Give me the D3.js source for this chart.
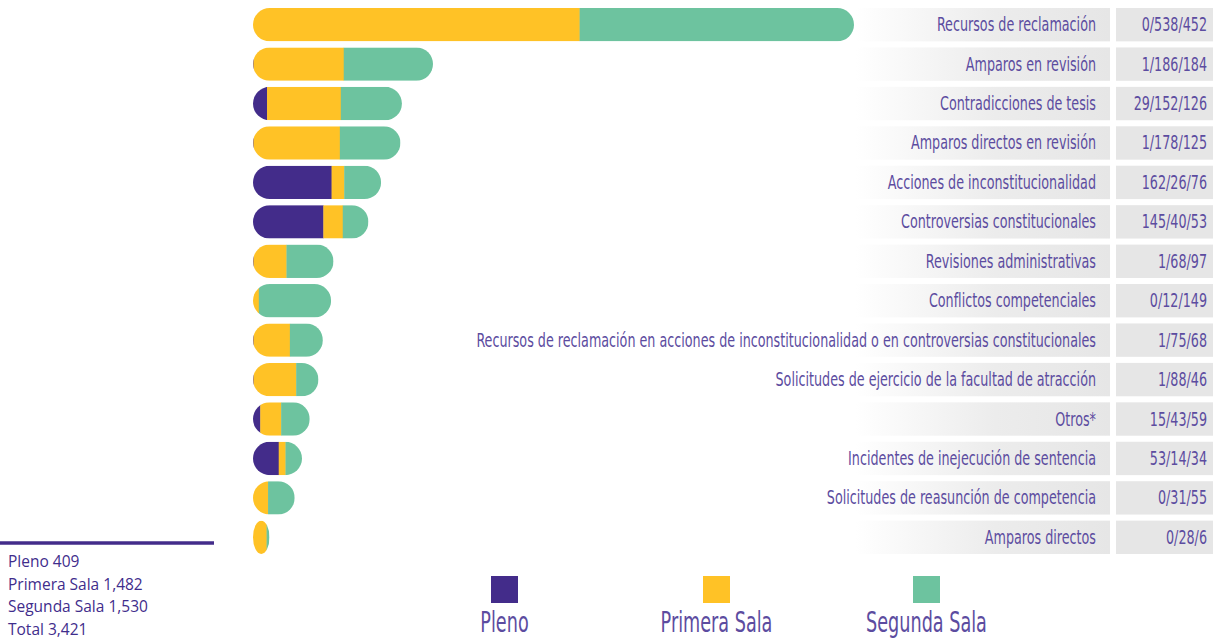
<!DOCTYPE html>
<html lang="es">
<head>
<meta charset="UTF-8">
<title>Asuntos por tipo</title>
<style>
  body { margin: 0; background: #fff; }
  svg { display: block; }
  .lbl { font-family: "Liberation Sans Narrow", "DejaVu Sans Condensed", sans-serif; fill: #5c4ca0; }
  .tot { font-family: "Open Sans", "Noto Sans", sans-serif; fill: #3f2d8c; font-size: 15.5px; }
</style>
</head>
<body>
<svg width="1217" height="640"></svg>
<script src="https://d3js.org/d3.v7.min.js"></script>
<script>
const categories = [
  "Recursos de reclamación",
  "Amparos en revisión",
  "Contradicciones de tesis",
  "Amparos directos en revisión",
  "Acciones de inconstitucionalidad",
  "Controversias constitucionales",
  "Revisiones administrativas",
  "Conflictos competenciales",
  "Recursos de reclamación en acciones de inconstitucionalidad o en controversias constitucionales",
  "Solicitudes de ejercicio de la facultad de atracción",
  "Otros*",
  "Incidentes de inejecución de sentencia",
  "Solicitudes de reasunción de competencia",
  "Amparos directos"
];
const pleno        = [0, 1, 29, 1, 162, 145, 1, 0, 1, 1, 15, 53, 0, 0];
const primeraSala  = [538, 186, 152, 178, 26, 40, 68, 12, 75, 88, 43, 14, 31, 28];
const segundaSala  = [452, 184, 126, 125, 76, 53, 97, 149, 68, 46, 59, 34, 55, 6];
const seriesNames  = ["Pleno", "Primera Sala", "Segunda Sala"];
const totalsText   = ["Pleno 409", "Primera Sala 1,482", "Segunda Sala 1,530", "Total 3,421"];

const colors = ["#432c8a", "#ffc226", "#6dc39f"];

const svg = d3.select("svg");

const rows = categories.map((c, i) => ({
  name: c,
  i: i,
  vals: [pleno[i], primeraSala[i], segundaSala[i]]
}));

const y = d3.scaleBand().domain(d3.range(categories.length))
  .range([8, 8 + 39 * categories.length]).paddingInner(6 / 39).paddingOuter(0);

// bar length (the first bar is drawn longer in the original)
const x = d3.scaleLinear().domain([0, 371, 990]).range([0, 180, 601]);
const x0 = 253;
const narrow = 0.745;

// label boxes with gradient
const defs = svg.append("defs");
const grad = defs.append("linearGradient").attr("id", "g").attr("x1", "0").attr("x2", "1");
grad.append("stop").attr("offset", "0").attr("stop-color", "#ffffff");
grad.append("stop").attr("offset", "0.55").attr("stop-color", "#ececec");
grad.append("stop").attr("offset", "1").attr("stop-color", "#e6e6e6");

svg.selectAll(".lbox").data(rows).join("rect")
  .attr("x", 855).attr("y", d => y(d.i))
  .attr("width", 255).attr("height", y.bandwidth())
  .attr("fill", "url(#g)");

svg.selectAll(".vbox").data(rows).join("rect")
  .attr("x", 1116).attr("y", d => y(d.i))
  .attr("width", 97).attr("height", y.bandwidth())
  .attr("fill", "#e6e6e6");

svg.selectAll(".ltxt").data(rows).join("text")
  .attr("class", "lbl")
  .attr("transform", d => `translate(1096,${y(d.i) + y.bandwidth() / 2 + 6.5}) scale(${narrow},1)`)
  .attr("text-anchor", "end").attr("font-size", 19)
  .text(d => d.name);

svg.selectAll(".vtxt").data(rows).join("text")
  .attr("class", "lbl")
  .attr("transform", d => `translate(1207,${y(d.i) + y.bandwidth() / 2 + 6.5}) scale(${narrow},1)`)
  .attr("text-anchor", "end").attr("font-size", 19)
  .text(d => d.vals.join("/"));

// bars
rows.forEach(d => {
  const total = d3.sum(d.vals);
  const w = x(total);
  const h = y.bandwidth();
  const r = Math.min(h / 2, w / 2);
  defs.append("clipPath").attr("id", "c" + d.i)
    .append("rect")
    .attr("x", x0).attr("y", y(d.i)).attr("width", w).attr("height", h)
    .attr("rx", r).attr("ry", h / 2);
  const xs = d3.scaleLinear().domain([0, total]).range([x0, x0 + w]);
  let acc = 0;
  const segs = d.vals.map((v, k) => {
    const s = { start: acc, end: acc + v, k: k };
    acc += v;
    return s;
  });
  svg.append("g").attr("clip-path", `url(#c${d.i})`)
    .selectAll("rect").data(segs.filter(s => s.end > s.start)).join("rect")
    .attr("x", s => xs(s.start))
    .attr("y", y(d.i))
    .attr("width", s => xs(s.end) - xs(s.start) + (s.k < 2 ? 0.3 : 0))
    .attr("height", h)
    .attr("fill", s => colors[s.k]);
});

// totals block bottom-left
svg.append("line").attr("x1", 0).attr("x2", 214).attr("y1", 543).attr("y2", 543)
  .attr("stroke", "#432c8a").attr("stroke-width", 3.5);
svg.selectAll(".tt").data(totalsText).join("text")
  .attr("class", "tot")
  .attr("x", 8).attr("y", (d, i) => 567 + i * 22.5)
  .text(d => d);

// legend
const lx = [491, 703, 913];
const lg = svg.selectAll(".lg").data(seriesNames).join("g")
  .attr("transform", (d, i) => `translate(${lx[i]},576)`);
lg.append("rect").attr("width", 27).attr("height", 27).attr("fill", (d, i) => colors[i]);
lg.append("text").attr("class", "lbl")
  .attr("transform", "translate(13.5,56) scale(0.7,1)")
  .attr("text-anchor", "middle")
  .attr("font-size", 28)
  .text(d => d);
</script>
</body>
</html>
